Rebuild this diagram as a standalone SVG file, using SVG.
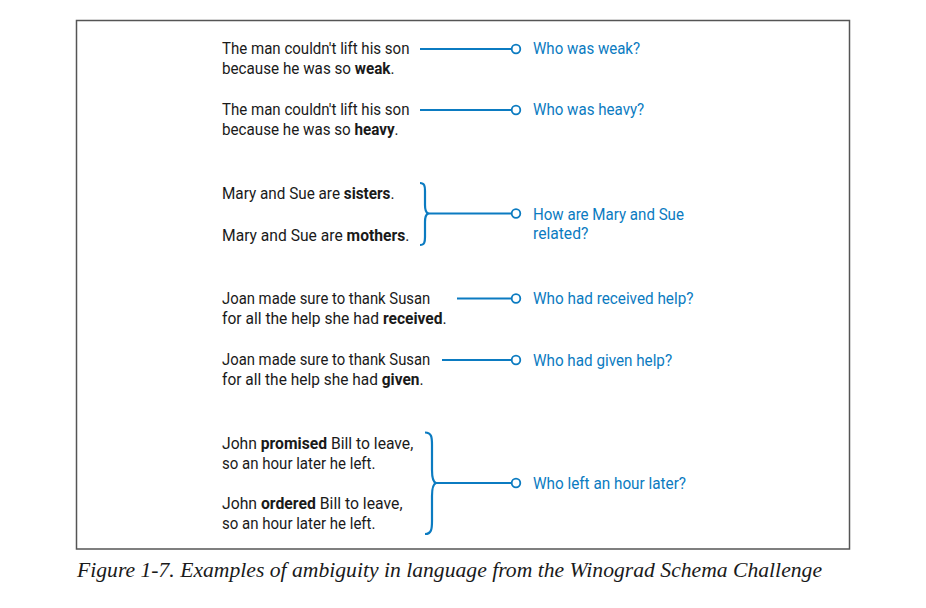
<svg xmlns="http://www.w3.org/2000/svg" width="926" height="608" viewBox="0 0 926 608">
<style>
text{font-family:"Roboto","Liberation Sans",sans-serif;font-size:17px}
.t{fill:#1a1a1a}
.b{font-weight:bold}
.q{fill:#0b7bc1}
.c{fill:none;stroke:#0b7bc1;stroke-width:2.2}
.end{fill:#fff;stroke:#0b7bc1;stroke-width:1.8}
.cap{font-family:"Liberation Serif",serif;font-style:italic;font-size:21px;fill:#1a1a1a}
</style>
<rect x="76.5" y="20.5" width="773" height="528.5" fill="#fff" stroke="#555" stroke-width="1.5"/>
<g id="connectors">
<path class="c" d="M420 49H512"/>
<path class="c" d="M420 110H512"/>
<path class="c" d="M420 183C424.5 183 425 186 425 191V205C425 210 426 212.5 428 213.5C426 214.5 425 217 425 222V237C425 242 424.5 245 420 245"/>
<path class="c" d="M428 213.5H512"/>
<path class="c" d="M457 298.5H512"/>
<path class="c" d="M442 360H512"/>
<path class="c" d="M425 432.5C431.5 432.5 432 437 432 445V470C432 478 433 482 436 483C433 484 432 488 432 496V521C432 529 431.5 534 425 534"/>
<path class="c" d="M436 483H512"/>
<circle class="end" cx="516" cy="49" r="4.3"/>
<circle class="end" cx="516" cy="110" r="4.3"/>
<circle class="end" cx="516" cy="213.5" r="4.3"/>
<circle class="end" cx="516" cy="298.5" r="4.3"/>
<circle class="end" cx="516" cy="360" r="4.3"/>
<circle class="end" cx="516" cy="483" r="4.3"/>
</g>
<g id="s1">
<text class="t" transform="translate(222 54) scale(0.886 1)">The man couldn't lift his son</text>
<text class="t" transform="translate(222 74) scale(0.896 1)">because he was so <tspan class="b">weak</tspan>.</text>
</g>
<g id="q1"><text class="q" transform="translate(533 54) scale(0.885 1)">Who was weak?</text></g>
<g id="s2">
<text class="t" transform="translate(222 115) scale(0.886 1)">The man couldn't lift his son</text>
<text class="t" transform="translate(222 135) scale(0.894 1)">because he was so <tspan class="b">heavy</tspan>.</text>
</g>
<g id="q2"><text class="q" transform="translate(533 115) scale(0.889 1)">Who was heavy?</text></g>
<g id="s3">
<text class="t" transform="translate(222 199) scale(0.9 1)">Mary and Sue are <tspan class="b">sisters</tspan>.</text>
<text class="t" transform="translate(222 241) scale(0.92 1)">Mary and Sue are <tspan class="b">mothers</tspan>.</text>
</g>
<g id="q3">
<text class="q" transform="translate(533 220) scale(0.888 1)">How are Mary and Sue</text>
<text class="q" transform="translate(533 239) scale(0.92 1)">related?</text>
</g>
<g id="s4">
<text class="t" transform="translate(222 304) scale(0.874 1)">Joan made sure to thank Susan</text>
<text class="t" transform="translate(222 324) scale(0.918 1)">for all the help she had <tspan class="b">received</tspan>.</text>
</g>
<g id="q4"><text class="q" transform="translate(533 304) scale(0.9 1)">Who had received help?</text></g>
<g id="s5">
<text class="t" transform="translate(222 365) scale(0.874 1)">Joan made sure to thank Susan</text>
<text class="t" transform="translate(222 385) scale(0.91 1)">for all the help she had <tspan class="b">given</tspan>.</text>
</g>
<g id="q5"><text class="q" transform="translate(533 366) scale(0.897 1)">Who had given help?</text></g>
<g id="s6">
<text class="t" transform="translate(222 449) scale(0.923 1)">John <tspan class="b">promised</tspan> Bill to leave,</text>
<text class="t" transform="translate(222 469) scale(0.884 1)">so an hour later he left.</text>
<text class="t" transform="translate(222 509) scale(0.928 1)">John <tspan class="b">ordered</tspan> Bill to leave,</text>
<text class="t" transform="translate(222 529) scale(0.884 1)">so an hour later he left.</text>
</g>
<g id="q6"><text class="q" transform="translate(533 489) scale(0.9 1)">Who left an hour later?</text></g>
<text class="cap" x="77" y="577" textLength="745" lengthAdjust="spacingAndGlyphs">Figure 1-7. Examples of ambiguity in language from the Winograd Schema Challenge</text>
</svg>
